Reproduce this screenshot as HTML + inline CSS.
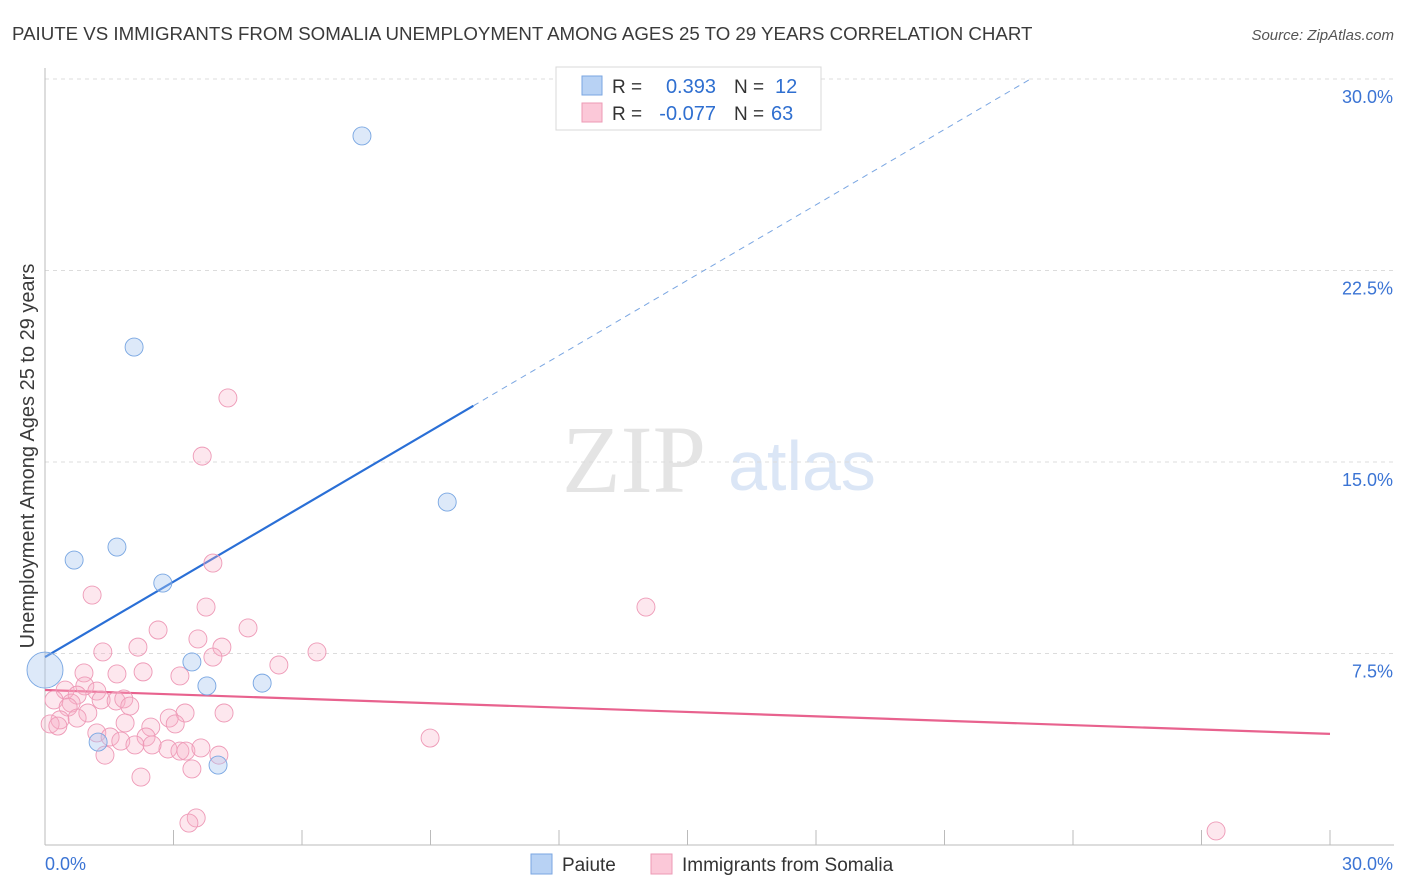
<!DOCTYPE html>
<html><head><meta charset="utf-8"><style>
body{margin:0;background:#fff;font-family:"Liberation Sans",sans-serif;}
svg{display:block}
</style></head><body>
<svg id="chart" width="1406" height="892" xmlns="http://www.w3.org/2000/svg">
<text x="12" y="40" font-size="18.7" fill="#3a3a3a">PAIUTE VS IMMIGRANTS FROM SOMALIA UNEMPLOYMENT AMONG AGES 25 TO 29 YEARS CORRELATION CHART</text>
<text x="1394" y="40" font-size="15" fill="#555" font-style="italic" text-anchor="end">Source: ZipAtlas.com</text>
<text transform="translate(34,456) rotate(-90)" font-size="20" fill="#3a3a3a" text-anchor="middle">Unemployment Among Ages 25 to 29 years</text>
<g>
<text x="634" y="492" font-size="96" font-family="Liberation Serif,serif" fill="#e4e4e4" text-anchor="middle">ZIP</text>
<text x="802" y="490" font-size="70" fill="#dbe6f6" text-anchor="middle">atlas</text>
</g>
<g id="grid"></g><g id="axes"></g><g id="trend"></g><g id="points"></g>
<g>
<rect x="556" y="67" width="265" height="63" fill="#fff" stroke="#d8d8d8"/>
<rect x="582" y="76" width="20" height="19" fill="#b8d2f4" stroke="#7aa6e2"/>
<rect x="582" y="103" width="20" height="19" fill="#fbc8d8" stroke="#ec9ab5"/>
<text x="612" y="93" font-size="19" fill="#333">R = </text><text x="716" y="93" font-size="20" fill="#2f6fd0" text-anchor="end">0.393</text>
<text x="734" y="93" font-size="19" fill="#333">N = </text><text x="775" y="93" font-size="20" fill="#2f6fd0">12</text>
<text x="612" y="120" font-size="19" fill="#333">R = </text><text x="716" y="120" font-size="20" fill="#2f6fd0" text-anchor="end">-0.077</text>
<text x="734" y="120" font-size="19" fill="#333">N = </text><text x="771" y="120" font-size="20" fill="#2f6fd0">63</text>
</g>
<g>
<rect x="531" y="854" width="21" height="20" fill="#b8d2f4" stroke="#7aa6e2"/>
<text x="562" y="871" font-size="19" fill="#333">Paiute</text>
<rect x="651" y="854" width="21" height="20" fill="#fbc8d8" stroke="#ec9ab5"/>
<text x="682" y="871" font-size="19" fill="#333">Immigrants from Somalia</text>
</g>
</svg>
<script>
const yTicks=[7.5,15,22.5,30];
const yTickLabels=["7.5%","15.0%","22.5%","30.0%"];
const xTickLabels=["0.0%","30.0%"];
const paiuteX=[7.40,2.08,9.39,0.68,1.68,2.75,3.43,3.78,5.07,1.24,4.04,0];
const paiuteY=[27.77,19.50,13.43,11.16,11.67,10.26,7.17,6.23,6.34,4.03,3.13,6.85];
const somaliaX=[4.27,3.67,3.92,1.10,3.76,14.03,2.64,4.74,3.57,2.17,4.13,1.35,6.35,3.92,5.46,0.91,1.68,2.29,3.15,0.93,0.47,1.21,0.75,0.21,0.61,1.31,1.66,1.84,1.98,0.54,1.00,3.27,4.18,0.75,0.35,0.12,0.30,2.90,2.47,1.87,3.04,1.21,2.36,1.52,1.77,8.99,2.10,2.87,2.50,3.15,3.29,3.64,1.40,4.06,3.43,2.24,3.53,3.36,27.34];
const somaliaY=[17.51,15.23,11.04,9.79,9.32,9.32,8.42,8.50,8.07,7.75,7.75,7.56,7.56,7.36,7.05,6.74,6.70,6.78,6.62,6.23,6.07,6.03,5.87,5.68,5.56,5.68,5.64,5.72,5.44,5.40,5.17,5.17,5.17,4.97,4.90,4.74,4.66,4.97,4.62,4.78,4.74,4.39,4.23,4.23,4.07,4.19,3.92,3.76,3.92,3.68,3.68,3.80,3.52,3.52,2.98,2.66,1.06,0.86,0.55];
const paiuteTrend=[7.36,0.984];
const somaliaTrend=[6.07,-0.0573];
const NS="http://www.w3.org/2000/svg";
const X0=45,X1=1330,Y0=845,Y30=79;
const sx=v=>X0+(v/30)*(X1-X0);
const sy=v=>Y0-(v/30)*(Y0-Y30);
function mk(t,a,p){const e=document.createElementNS(NS,t);for(const k in a)e.setAttribute(k,a[k]);p.appendChild(e);return e;}
const grid=document.getElementById('grid'),axes=document.getElementById('axes');
yTicks.forEach((v,i)=>{
 const l=mk('line',{x1:X0,x2:1394,y1:sy(v),y2:sy(v),stroke:'#dcdcdc','stroke-dasharray':'4,4'},grid);
 
 
 const t=mk('text',{x:1393,y:sy(v)+24,'font-size':18,fill:'#3b74d4','text-anchor':'end'},axes);
 t.textContent=yTickLabels[i];
 
 
});
let a=mk('line',{x1:X0,x2:X0,y1:68,y2:Y0,stroke:'#bbb'},axes);


a=mk('line',{x1:X0,x2:1394,y1:Y0,y2:Y0,stroke:'#bbb'},axes);


for(let i=0;i<=10;i++){const tk=mk('line',{x1:sx(i*3),x2:sx(i*3),y1:830,y2:Y0,stroke:'#bbb'},axes);
 
 }
let xt=mk('text',{x:45,y:870,'font-size':18,fill:'#3b74d4'},axes);xt.textContent=xTickLabels[0];


xt=mk('text',{x:1393,y:870,'font-size':18,fill:'#3b74d4','text-anchor':'end'},axes);xt.textContent=xTickLabels[1];


const tr=document.getElementById('trend');
let ln=mk('line',{x1:sx(0),y1:sy(paiuteTrend[0]),x2:sx(10),y2:sy(paiuteTrend[0]+10*paiuteTrend[1]),stroke:'#2a6fd6','stroke-width':2.2},tr);


const xe=(30-paiuteTrend[0])/paiuteTrend[1];
ln=mk('line',{x1:sx(10),y1:sy(paiuteTrend[0]+10*paiuteTrend[1]),x2:sx(xe),y2:sy(30),stroke:'#7aa6e2','stroke-width':1,'stroke-dasharray':'6,5'},tr);


ln=mk('line',{x1:sx(0),y1:sy(somaliaTrend[0]),x2:sx(30),y2:sy(somaliaTrend[0]+30*somaliaTrend[1]),stroke:'#e8628e','stroke-width':2.2},tr);


const pts=document.getElementById('points');
somaliaX.forEach((x,i)=>{const c=mk('circle',{cx:sx(x),cy:sy(somaliaY[i]),r:9,fill:'rgba(248,176,200,0.3)',stroke:'#ee9ab7','stroke-width':0.9},pts);
 
 });
paiuteX.forEach((x,i)=>{const c=mk('circle',{cx:sx(x),cy:sy(paiuteY[i]),r:i==11?18:9,fill:'rgba(170,200,240,0.4)',stroke:'#78a6e2','stroke-width':0.9},pts);
 
 });
</script>
</body></html>
